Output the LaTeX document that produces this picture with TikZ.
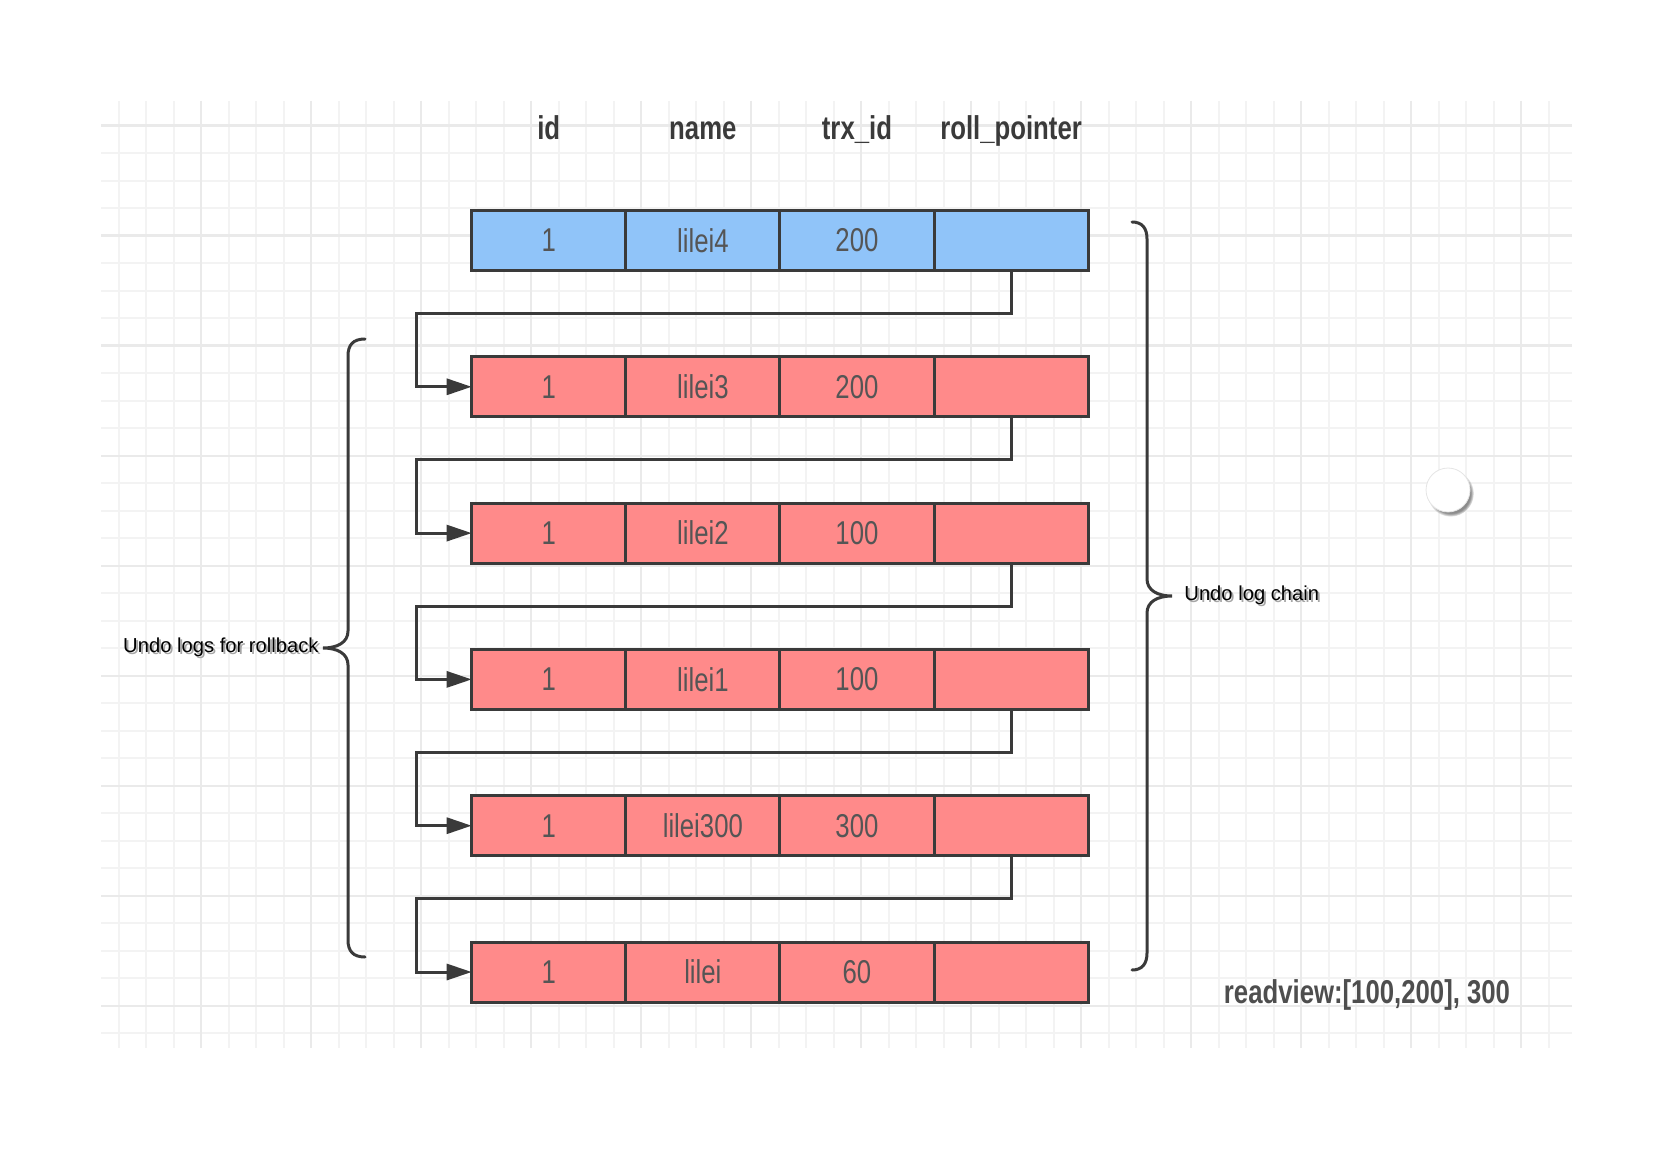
\documentclass[tikz,border=0pt]{standalone}
\usepackage{fontspec}
\setmainfont{Liberation Sans}
\newfontfamily\cellfont[FakeStretch=0.78]{Liberation Sans}
\usetikzlibrary{arrows.meta,calc,shadows}
\definecolor{rowblue}{RGB}{144,196,249}
\definecolor{rowred}{RGB}{255,138,138}
\definecolor{edge}{RGB}{58,58,58}
\definecolor{celltext}{RGB}{85,85,85}
\definecolor{gridminor}{RGB}{243,243,243}
\definecolor{gridmajor}{RGB}{234,234,234}
\newcommand{\shadowed}[1]{\makebox[0pt][l]{\hspace{1pt}\raisebox{-1.2pt}{\textcolor{black!35}{#1}}}#1}

\begin{document}
\begin{tikzpicture}[x=0.5pt,y=-0.5pt,
    cell/.style={draw=edge,line width=1.5pt,minimum width=77.05pt,minimum height=30pt,inner sep=0pt,outer sep=0pt,
        font=\cellfont\fontsize{16.5}{18}\selectfont,text=celltext},
    head/.style={font=\cellfont\bfseries\fontsize{16.5}{18}\selectfont,text=edge,text height=11.8pt,text depth=0pt},
    chain/.style={draw=edge,line width=1.5pt,-{Triangle[length=12.5pt,width=8pt]}},
    curly/.style={draw=edge,line width=1.5pt,line cap=round},
    note/.style={font=\fontsize{10.1}{12}\selectfont,text=black,inner sep=1pt}]
    \useasboundingbox (0,0) rectangle (1673,1149);

    % background grid
    \foreach \k in {0,...,52} \draw[gridminor,line width=1pt] (118.5+27.5*\k,101) -- (118.5+27.5*\k,1048);
    \foreach \k in {0,...,33} \draw[gridminor,line width=1pt] (101,125.7+27.5*\k) -- (1572,125.7+27.5*\k);
    \foreach \k in {0,...,12} \draw[gridmajor,line width=1.2pt] (201+110*\k,101) -- (201+110*\k,1048);
    \foreach \k in {0,...,8} \draw[gridmajor,line width=1.2pt] (101,125.7+110*\k) -- (1572,125.7+110*\k);

    % column heads
    \foreach \t/\nm [count=\c] in {id/id,name/name,trx\_id/trx,roll\_pointer/ptr}
        \node[head] (head_\nm) at (394.65+154.1*\c,128) {\t};

    % versions, newest on top
    \foreach \n/\who/\trx/\col [count=\r] in {1/lilei4/200/rowblue,1/lilei3/200/rowred,1/lilei2/100/rowred,
            1/lilei1/100/rowred,1/lilei300/300/rowred,1/lilei/60/rowred} {
        \node[cell,fill=\col] (v\r_id) at (548.75,240.5+146.3*\r-146.3) {\n};
        \node[cell,fill=\col] (v\r_name) at (702.85,240.5+146.3*\r-146.3) {\who};
        \node[cell,fill=\col] (v\r_trx) at (856.95,240.5+146.3*\r-146.3) {\trx};
        \node[cell,fill=\col] (v\r_ptr) at (1011.05,240.5+146.3*\r-146.3) {};
    }

    \foreach \r [evaluate=\r as \s using int(\r+1)] in {1,...,5}
        \draw[chain] (v\r_ptr.south) -- ($(v\r_ptr.south)!0.5!(v\s_ptr.north)$) -| ($(v\s_id.west)+(-55,0)$) -- (v\s_id.west);

    % braces
    \coordinate (undo_tip) at (323,648);
    \draw[curly] (365,339) .. controls (353,339) and (348,345) .. (348,356) -- (348,631)
        .. controls (348,642) and (338,648) .. (undo_tip) .. controls (338,648) and (348,654) .. (348,665)
        -- (348,940) .. controls (348,951) and (353,957) .. (365,957);
    \node[note,anchor=east] (undo_label) at ([xshift=-1pt]undo_tip) {\shadowed{Undo logs for rollback}};

    \coordinate (chain_tip) at (1172,596);
    \draw[curly] (1132,222) .. controls (1142,222) and (1147,228) .. (1147,239) -- (1147,579)
        .. controls (1147,590) and (1157,596) .. (chain_tip) .. controls (1157,596) and (1147,602) .. (1147,613)
        -- (1147,953) .. controls (1147,964) and (1142,970) .. (1132,970);
    \node[note,anchor=west] (chain_label) at ([xshift=5pt]chain_tip) {\shadowed{Undo log chain}};

    \node[head,text=edge!90] (readview) at (1367,992) {readview:[100,200], 300};

    \node[circle,draw=black!10,line width=0.4pt,fill=white,minimum size=22pt,inner sep=0pt,
        circular drop shadow={shadow xshift=1.2pt,shadow yshift=-1.6pt,shadow scale=1.06,opacity=0.9}] (knob) at (1448,490) {};
\end{tikzpicture}
\end{document}
